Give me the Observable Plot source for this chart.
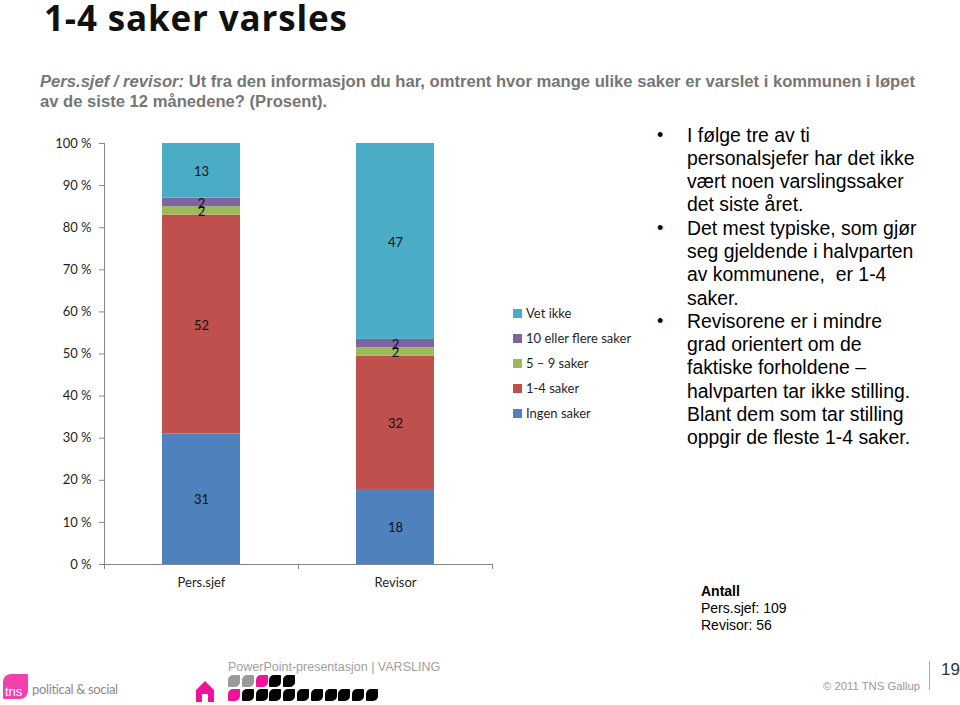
<!DOCTYPE html>
<html><head><meta charset="utf-8">
<script src="https://cdn.jsdelivr.net/npm/d3@7"></script>
<script src="https://cdn.jsdelivr.net/npm/@observablehq/plot@0.6"></script>
<style>
html,body{margin:0;padding:0;background:#fff;width:960px;height:705px;overflow:hidden}
#page{position:relative;width:960px;height:705px;overflow:hidden;font-family:"Liberation Sans",Arial,sans-serif}
#chart{position:absolute;left:0;top:0}
.a{position:absolute;white-space:nowrap}
#title{left:44px;top:0;font:bold 35px/36px "Open Sans",sans-serif;color:#111;letter-spacing:.85px}
#sub{left:40px;top:72px;font:bold 16.62px/20px "Liberation Sans",sans-serif;color:#767676}
#bul{left:657px;top:123.5px;font:19.4px/23.3px "Liberation Sans",sans-serif;color:#000}
#bul div{position:relative;padding-left:30px}
#bul div::before{content:"•";position:absolute;left:0;top:0;font-size:18px}
#antall{left:701px;top:583px;font:14px/17px "Liberation Sans",sans-serif;color:#000}
#leg{left:513px;top:301px;font:13px/25px Lato,sans-serif;color:#1f1f1f}
#leg div{height:25px;padding-left:13px;position:relative}
#leg span{position:absolute;left:0;top:8px;width:9px;height:9px}
#ppt{left:228px;top:659px;font:12.5px/17px "Liberation Sans",sans-serif;color:#a0a0a0}
#copy{left:823px;top:679px;font:11.3px/14px "Liberation Sans",sans-serif;color:#999}
#num{left:941px;top:660px;font:17px/20px "Liberation Sans",sans-serif;color:#333}
#sep{left:929px;top:661px;width:1px;height:29px;background:#aaa}
#logo{left:3px;top:674px;width:25px;height:25px;background:#f0129b;border-radius:8px 1px 8px 1px;color:#fff;font:13px/36px "Liberation Sans",sans-serif;opacity:.8;text-indent:2px}
#soc{left:32px;top:680px;font:13px/18px Lato,sans-serif;color:#8a8a8a;letter-spacing:-.35px}
.sq{position:absolute;width:12px;height:12px;border-radius:5px 1px 5px 1px}
#home{position:absolute;left:196px;top:681px}
</style></head><body>
<div id="page">
<div id="chart"></div>
<div class="a" id="title">1-4 saker varsles</div>
<div class="a" id="sub"><i>Pers.sjef / revisor:</i> Ut fra den informasjon du har, omtrent hvor mange ulike saker er varslet i kommunen i løpet<br>av de siste 12 månedene? (Prosent).</div>
<div class="a" id="bul">
<div>I følge tre av ti<br>personalsjefer har det ikke<br>vært noen varslingssaker<br>det siste året.</div>
<div>Det mest typiske, som gjør<br>seg gjeldende i halvparten<br>av kommunene,&nbsp; er 1-4<br>saker.</div>
<div>Revisorene er i mindre<br>grad orientert om de<br>faktiske forholdene –<br>halvparten tar ikke stilling.<br>Blant dem som tar stilling<br>oppgir de fleste 1-4 saker.</div>
</div>
<div class="a" id="leg"></div>
<div class="a" id="antall"><b>Antall</b><br>Pers.sjef: 109<br>Revisor: 56</div>
<div class="a" id="logo">tns</div>
<div class="a" id="soc">political &amp; social</div>
<svg id="home" width="18" height="22" viewBox="0 0 18 22"><path d="M9 0L18 9V21H12V13H6V21H0V9Z" fill="#f0129b"/></svg>
<div class="a" id="ppt">PowerPoint-presentasjon | VARSLING</div>
<div id="squares"></div>
<div class="a" id="copy">© 2011 TNS Gallup</div>
<div class="a" id="sep"></div>
<div class="a" id="num">19</div>
</div>
<script>
const categories = ["Pers.sjef", "Revisor"];
const seriesNames = ["Ingen saker", "1-4 saker", "5 – 9 saker", "10 eller flere saker", "Vet ikke"];
const seriesColors = ["#4f81bd", "#c0504d", "#9bbb59", "#8064a2", "#4bacc6"];
const persSjef = [31, 52, 2, 2, 13];
const revisor = [18, 32, 2, 2, 47];
const yTicks = [0, .1, .2, .3, .4, .5, .6, .7, .8, .9, 1];

const rows = seriesNames.flatMap((s, i) => [
  {cat: categories[0], series: s, value: persSjef[i]},
  {cat: categories[1], series: s, value: revisor[i]}
]);
const stackOpts = {x: "cat", y: "value", z: "series", order: seriesNames, offset: "normalize"};
const axisColor = "#868686";
const chart = Plot.plot({
  width: 960, height: 705,
  marginLeft: 104, marginRight: 468, marginTop: 143, marginBottom: 141,
  style: {background: "transparent", fontFamily: "Lato, sans-serif", fontSize: "13px", color: "#1f1f1f"},
  x: {domain: categories, paddingInner: 0.6, paddingOuter: 0.3, label: null},
  y: {domain: [0, 1], label: null},
  color: {domain: seriesNames, range: seriesColors},
  marks: [
    Plot.barY(rows, Plot.stackY({...stackOpts, fill: "series"})),
    Plot.text(rows, Plot.stackY({...stackOpts, text: "value", fill: "#111", fontSize: 13, dy: 1})),
    Plot.axisY({ticks: yTicks, tickFormat: d => Math.round(d * 100) + " %", tickSize: 5, tickPadding: 8, stroke: axisColor, label: null, fill: "#1f1f1f", fontSize: 13}),
    Plot.axisX({tickSize: 0, tickPadding: 13, label: null, fill: "#1f1f1f", fontSize: 13}),
    Plot.ruleY([0], {stroke: axisColor}),
    Plot.ruleX(categories.slice(0, 1), {dx: -97, y1: () => 0, y2: () => 1, stroke: axisColor}),
    Plot.ruleX(categories, {dx: -97, y1: () => 0, y2: () => 0, insetBottom: -5, stroke: axisColor}),
    Plot.ruleX(categories, {dx: 97, y1: () => 0, y2: () => 0, insetBottom: -5, stroke: axisColor})
  ]
});
document.getElementById("chart").append(chart);

const leg = document.getElementById("leg");
[...seriesNames].reverse().forEach((s, i) => {
  const c = seriesColors[seriesNames.length - 1 - i];
  const d = document.createElement("div");
  d.innerHTML = `<span style="background:${c}"></span>${s}`;
  leg.append(d);
});

const navRows = [
  {top: 675, colors: ["#9a9a9a", "#9a9a9a", "#f0129b", "#000", "#000"]},
  {top: 689, colors: ["#f0129b", "#000", "#000", "#000", "#000", "#000", "#000", "#000", "#000", "#000", "#000"]}
];
const sq = document.getElementById("squares");
navRows.forEach(r => r.colors.forEach((c, i) => {
  const d = document.createElement("div");
  d.className = "sq";
  d.style.cssText = `left:${228 + i * 13.8}px;top:${r.top}px;background:${c}`;
  sq.append(d);
}));
</script>
</body></html>
